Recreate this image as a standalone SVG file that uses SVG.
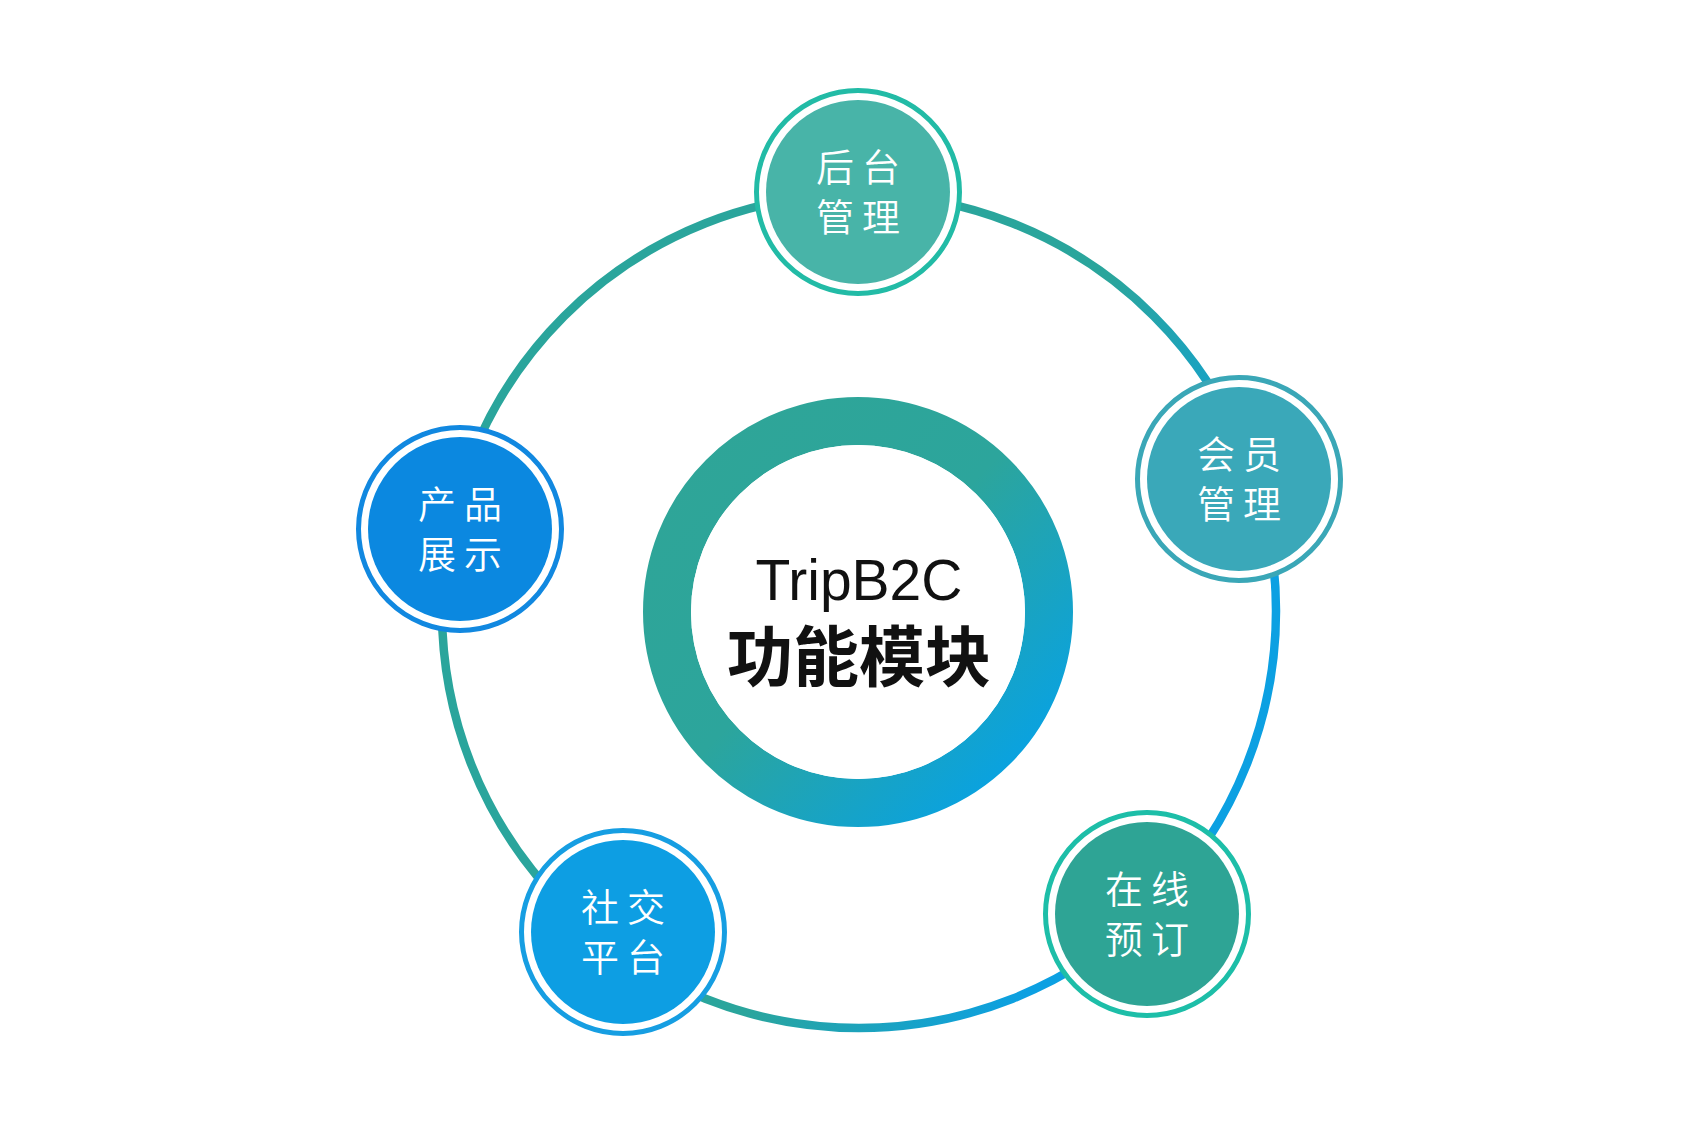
<svg xmlns="http://www.w3.org/2000/svg" width="1700" height="1125" viewBox="0 0 1700 1125">
  <defs>
    <linearGradient id="bigGrad" gradientUnits="userSpaceOnUse" x1="927" y1="645" x2="1147" y2="755">
      <stop offset="0" stop-color="#2aa59c"/>
      <stop offset="1" stop-color="#0ca0e2"/>
    </linearGradient>
    <linearGradient id="ringGrad" x1="0" y1="0" x2="1" y2="1">
      <stop offset="0" stop-color="#2fa597"/>
      <stop offset="0.48" stop-color="#2ca59c"/>
      <stop offset="0.9" stop-color="#0aa2df"/>
      <stop offset="1" stop-color="#0aa2df"/>
    </linearGradient>
    <style>
      .label { font-family: "Noto Sans CJK SC", "Noto Sans", sans-serif; font-size: 38px; font-weight: 350; fill: #ffffff; letter-spacing: 8px; text-anchor: middle; }
      .ring { fill: #ffffff; stroke-width: 5; }
    </style>
  </defs>
  <rect width="1700" height="1125" fill="#ffffff"/>

  <g id="connectors">
    <circle cx="859" cy="611" r="417" fill="none" stroke="url(#bigGrad)" stroke-width="8.5"/>
  </g>

  <g id="center">
    <circle cx="858" cy="612" r="191" fill="none" stroke="url(#ringGrad)" stroke-width="48"/>
    <circle cx="858" cy="612" r="167" fill="#ffffff"/>
    <text x="859" y="600" font-family="'Liberation Sans', Arial, sans-serif" font-size="57" fill="#111111" text-anchor="middle">TripB2C</text>
    <text x="859" y="681" font-family="'Noto Sans CJK SC', sans-serif" font-size="66" font-weight="bold" fill="#111111" text-anchor="middle">功能模块</text>
  </g>

  <g id="node-houtai">
    <circle class="ring" cx="858" cy="192" r="101.5" stroke="#22bba6"/>
    <circle cx="858" cy="192" r="92" fill="#48b4a8"/>
    <text class="label" x="862" y="181">后台</text>
    <text class="label" x="862" y="231">管理</text>
  </g>

  <g id="node-huiyuan">
    <circle class="ring" cx="1239" cy="479" r="101.5" stroke="#3aa7b7"/>
    <circle cx="1239" cy="479" r="92" fill="#3aa8b9"/>
    <text class="label" x="1243" y="468">会员</text>
    <text class="label" x="1243" y="518">管理</text>
  </g>

  <g id="node-zaixian">
    <circle class="ring" cx="1147" cy="914" r="101.5" stroke="#1dbea8"/>
    <circle cx="1147" cy="914" r="92" fill="#2ea495"/>
    <text class="label" x="1151" y="903">在线</text>
    <text class="label" x="1151" y="953">预订</text>
  </g>

  <g id="node-shejiao">
    <circle class="ring" cx="623" cy="932" r="101.5" stroke="#169ee2"/>
    <circle cx="623" cy="932" r="92" fill="#0d9ee3"/>
    <text class="label" x="627" y="921">社交</text>
    <text class="label" x="627" y="971">平台</text>
  </g>

  <g id="node-chanpin">
    <circle class="ring" cx="460" cy="529" r="101.5" stroke="#1188e0"/>
    <circle cx="460" cy="529" r="92" fill="#0b88e0"/>
    <text class="label" x="464" y="518">产品</text>
    <text class="label" x="464" y="568">展示</text>
  </g>
</svg>
